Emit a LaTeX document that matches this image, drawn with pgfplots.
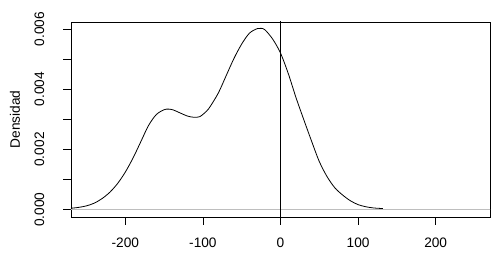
\documentclass[border=0pt]{standalone}
\usepackage{pgfplots}
\pgfplotsset{compat=1.18}
\usepackage{fontspec}
\setmainfont{Liberation Sans}
\definecolor{rgray}{RGB}{190,190,190}
\begin{document}
\begin{tikzpicture}
\begin{axis}[
  at={(0,0)}, anchor=south west,
  scale only axis, width=419pt, height=195pt,
  xmin=-270, xmax=270, ymin=-0.00024, ymax=0.00623,
  axis line style={line width=0.8pt},
  tick pos=left, tick align=outside,
  major tick length=7.5pt,
  tick style={line width=0.8pt, black},
  xtick={-200,-100,0,100,200},
  xticklabels={-200,-100,0,100,200},
  ytick={0,0.001,0.002,0.003,0.004,0.005,0.006},
  yticklabels={0.000,,0.002,,0.004,,0.006},
  scaled y ticks=false,
  xticklabel style={font=\fontsize{13.7}{16}\selectfont, anchor=north, inner sep=0pt},
  yticklabel style={font=\fontsize{13.7}{16}\selectfont, rotate=90, anchor=south, inner sep=0pt},
  xticklabel shift=13pt,
  yticklabel shift=19pt,
  ylabel={Densidad},
  ylabel style={at={(axis description cs:-0.1337,0.5)}, anchor=center, font=\fontsize{13.7}{16}\selectfont},
  clip=true,
]
\addplot[rgray, line width=0.8pt] coordinates {(-280,0) (280,0)};
\addplot[black, line width=0.8pt] coordinates {(0,-0.001) (0,0.007)};
\addplot[black, line width=0.8pt, smooth] coordinates {
(-270,0.00005) (-260,0.00008) (-250,0.00013) (-240,0.00022) (-230,0.00037)
(-220,0.00058) (-210,0.00087) (-200,0.00125) (-190,0.00172) (-180,0.00226)
(-170,0.00280) (-160,0.00316) (-150,0.00332) (-144,0.00334) (-138,0.00331)
(-130,0.00322) (-120,0.00311) (-112,0.00307) (-104,0.00309) (-95,0.00328)
(-90,0.00345) (-80,0.00388) (-70,0.00445) (-60,0.00502) (-50,0.00550)
(-40,0.00586) (-30,0.00601) (-25,0.00602) (-20,0.00597) (-10,0.00566)
(0,0.00520) (10,0.00452) (20,0.00372) (30,0.00299) (40,0.00228)
(50,0.00160) (60,0.00110) (70,0.00073) (80,0.00049) (90,0.00030)
(100,0.00017) (110,0.00010) (120,0.00006) (132,0.00004)
};
\end{axis}
\pgfresetboundingbox
\path (-71pt,-43pt) rectangle (429pt,217pt);
\end{tikzpicture}
\end{document}
